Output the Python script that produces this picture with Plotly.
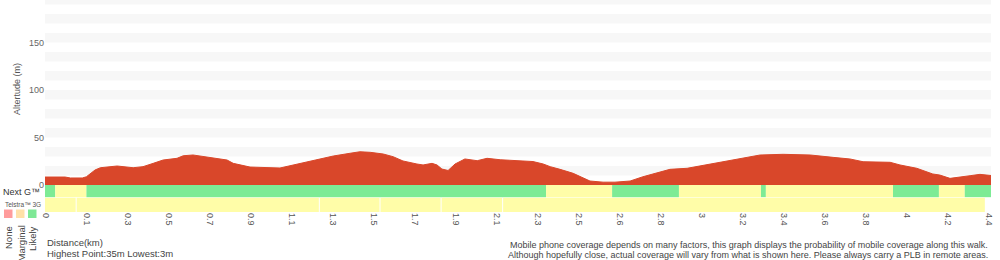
import plotly.graph_objects as go

# ---------------- data ----------------
# x is the sample position along the walk (tick index); tick labels are the distances (km)
tick_labels = ['0', '0.1', '0.3', '0.5', '0.7', '0.9', '1.1', '1.3', '1.5', '1.7', '1.9', '2.1',
               '2.3', '2.5', '2.6', '2.8', '3', '3.2', '3.4', '3.6', '3.8', '4', '4.2', '4.4']
tick_pos = list(range(len(tick_labels)))

dist_idx = [-0.03, 0.46, 0.59, 0.88, 0.98, 1.19, 1.32, 1.73, 2.12, 2.36, 2.61, 2.85, 3.19, 3.34,
            3.58, 3.83, 4.07, 4.41, 4.56, 4.73, 4.97, 5.70, 6.19, 6.61, 7.00, 7.41, 7.65, 7.90,
            8.22, 8.46, 8.70, 9.04, 9.19, 9.41, 9.53, 9.65, 9.80, 9.97, 10.21, 10.51, 10.75,
            11.07, 11.48, 11.87, 12.12, 12.29, 12.53, 12.85, 13.26, 13.58, 13.87, 14.24, 14.55,
            14.97, 15.21, 15.63, 15.94, 16.43, 16.92, 17.16, 17.41, 17.97, 18.63, 19.19, 19.60,
            19.92, 20.58, 20.82, 21.23, 21.62, 21.79, 22.04, 22.28, 22.53, 22.77, 23.04]
altitude = [8.4, 8.4, 7.4, 7.4, 8.7, 15.8, 18.2, 20.0, 18.2, 19.3, 22.8, 26.3, 28.1, 30.8,
            31.6, 29.8, 28.1, 26.3, 22.8, 21.1, 18.9, 17.9, 22.8, 27.1, 30.5, 33.4, 35.0, 34.4,
            32.6, 29.8, 25.3, 22.1, 21.1, 22.8, 21.1, 16.8, 15.3, 22.1, 27.4, 25.6, 28.1,
            26.6, 25.3, 24.7, 22.1, 19.3, 16.5, 12.3, 4.2, 3.0, 3.0, 4.2, 8.7,
            13.9, 16.5, 17.6, 20.0, 24.5, 28.1, 29.8, 31.6, 32.3, 31.6, 29.1, 27.4,
            24.5, 23.9, 21.1, 17.6, 11.6, 10.5, 7.0, 8.7, 9.8, 11.2, 10.0]

nextg_bounds = [-0.03, 0.22, 0.98, 12.19, 13.80, 15.43, 17.43, 17.55, 20.65, 21.77, 22.40, 23.04]
nextg_levels = ['Likely', 'Marginal', 'Likely', 'Marginal', 'Likely', 'Marginal', 'Likely',
                'Marginal', 'Likely', 'Marginal', 'Likely']
g3_bounds = [-0.03, 0.73, 6.66, 8.14, 9.63, 11.13, 22.89]
g3_levels = ['Marginal', 'Marginal', 'Marginal', 'Marginal', 'Marginal', 'Marginal']

legend_levels = ['None', 'Marginal', 'Likely']
y_ticks = [0, 50, 100, 150]

# ---------------- styles ----------------
RED = '#d9472a'
ROW_COLORS = {'None': '#ff9a9a', 'Marginal': '#fffda8', 'Likely': '#7deb95'}
SWATCH_COLORS = {'None': '#ff9c9c', 'Marginal': '#ffe1a8', 'Likely': '#7ee896'}
FONT = 'Liberation Sans, Arial, sans-serif'

W, H = 1000, 260
ML, MR, MT, MB = 45, 9, 0, 48
PW, PH = W - ML - MR, H - MT - MB
Y_MIN, Y_MAX = -28.4, 194.7
X_MIN, X_MAX = -0.03, 23.04


def px_x(p):
    return (p - ML) / PW


def px_y(p):
    return 1 - (p - MT) / PH


fig = go.Figure()
fig.add_trace(go.Scatter(x=dist_idx, y=altitude, mode='lines', fill='tozeroy',
                         fillcolor=RED, line=dict(color=RED, width=1),
                         hoverinfo='skip', showlegend=False))

shapes = []
# background stripes
for y0 in range(10, 200, 20):
    shapes.append(dict(type='rect', xref='paper', yref='y', x0=0, x1=1, y0=y0, y1=y0 + 10,
                       fillcolor='#f7f7f7', line=dict(width=0), layer='below'))
# Next G row
for i, lev in enumerate(nextg_levels):
    shapes.append(dict(type='rect', xref='x', yref='y', x0=nextg_bounds[i], x1=nextg_bounds[i + 1],
                       y0=-12.8, y1=0, fillcolor=ROW_COLORS[lev], line=dict(width=0), layer='above'))
# Telstra 3G row
gap = 0.012
for i, lev in enumerate(g3_levels):
    x0 = g3_bounds[i] + (gap if i > 0 else 0)
    x1 = g3_bounds[i + 1] - (gap if i < len(g3_levels) - 1 else 0)
    shapes.append(dict(type='rect', xref='x', yref='y', x0=x0, x1=x1,
                       y0=Y_MIN, y1=-13.4, fillcolor=ROW_COLORS[lev], line=dict(width=0),
                       layer='above'))
# legend swatches
for i, lev in enumerate(legend_levels):
    sx = 4 + i * 12
    shapes.append(dict(type='rect', xref='paper', yref='paper',
                       x0=px_x(sx), x1=px_x(sx + 8.5), y0=px_y(218), y1=px_y(209.5),
                       fillcolor=SWATCH_COLORS[lev], line=dict(width=0)))

ann = []
ann.append(dict(text='Altertude (m)', xref='paper', yref='paper', x=px_x(17), y=px_y(89),
                textangle=-90, showarrow=False, font=dict(size=9, color='#555', family=FONT),
                xanchor='center', yanchor='middle'))
ann.append(dict(text='Next G™', xref='paper', yref='paper', x=px_x(1), y=px_y(192),
                showarrow=False, font=dict(size=9, color='#333', family=FONT),
                xanchor='left', yanchor='middle'))
ann.append(dict(text='Telstra™ 3G', xref='paper', yref='paper', x=px_x(3), y=px_y(204),
                showarrow=False, font=dict(size=6.5, color='#555', family=FONT),
                xanchor='left', yanchor='middle'))
for i, lev in enumerate(legend_levels):
    ann.append(dict(text=lev, xref='paper', yref='paper', x=px_x(8.5 + i * 12), y=px_y(224),
                    textangle=-90, showarrow=False, font=dict(size=9.5, color='#444', family=FONT),
                    xanchor='center', yanchor='top'))
ann.append(dict(text='Distance(km)', xref='paper', yref='paper', x=px_x(45), y=px_y(243),
                showarrow=False, font=dict(size=9.5, color='#444', family=FONT),
                xanchor='left', yanchor='middle'))
ann.append(dict(text='Highest Point:35m Lowest:3m', xref='paper', yref='paper', x=px_x(45),
                y=px_y(253), showarrow=False, font=dict(size=9.5, color='#444', family=FONT),
                xanchor='left', yanchor='middle'))
ann.append(dict(text='Mobile phone coverage depends on many factors, this graph displays the probability of mobile coverage along this walk.',
                xref='paper', yref='paper', x=px_x(990), y=px_y(245), showarrow=False,
                font=dict(size=9, color='#444', family=FONT), xanchor='right', yanchor='middle'))
ann.append(dict(text='Although hopefully close, actual coverage will vary from what is shown here. Please always carry a PLB in remote areas.',
                xref='paper', yref='paper', x=px_x(990), y=px_y(254.5), showarrow=False,
                font=dict(size=9, color='#444', family=FONT), xanchor='right', yanchor='middle'))

fig.update_layout(
    width=W, height=H,
    margin=dict(l=ML, r=MR, t=MT, b=MB, pad=0),
    paper_bgcolor='white', plot_bgcolor='white',
    showlegend=False,
    shapes=shapes, annotations=ann,
    font=dict(family=FONT),
    xaxis=dict(range=[X_MIN, X_MAX], tickvals=tick_pos, ticktext=tick_labels, tickangle=90,
               showgrid=False, zeroline=False, showline=False, ticks='',
               tickfont=dict(size=9, color='#555', family=FONT), fixedrange=True),
    yaxis=dict(range=[Y_MIN, Y_MAX], tickvals=y_ticks, ticktext=[str(v) for v in y_ticks],
               showgrid=False, zeroline=False, showline=False, ticks='',
               tickfont=dict(size=9, color='#666', family=FONT), fixedrange=True),
)

fig.write_html('out.html', config={'displayModeBar': False})
